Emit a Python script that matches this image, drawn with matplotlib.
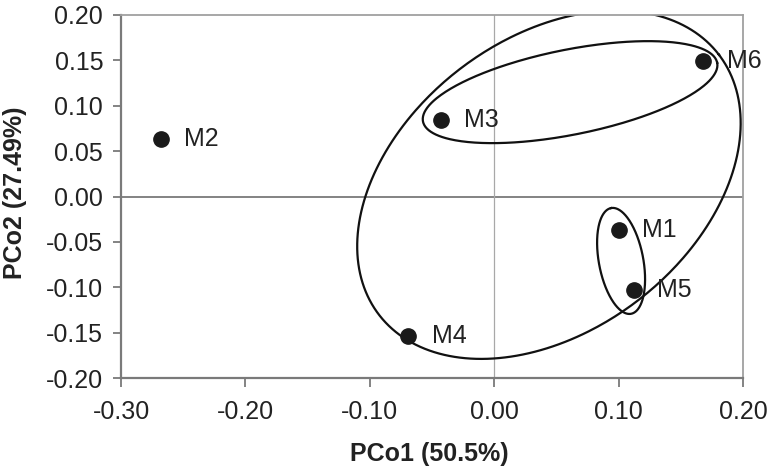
import numpy as np
import matplotlib
matplotlib.use("Agg")
import matplotlib.pyplot as plt

plt.rcParams['font.family'] = ['Liberation Sans', 'DejaVu Sans']

# Data
labels = ["M1", "M2", "M3", "M4", "M5", "M6"]
pco1 = [0.100, -0.268, -0.043, -0.069, 0.112, 0.168]
pco2 = [-0.037, 0.063, 0.084, -0.154, -0.103, 0.149]

xticks = [-0.30, -0.20, -0.10, 0.00, 0.10, 0.20]
yticks = [-0.20, -0.15, -0.10, -0.05, 0.00, 0.05, 0.10, 0.15, 0.20]

# Group ellipses: centre (data), semi-axes (pixels), angle (deg)
ell_centers = [(0.044, 0.013), (0.061, 0.115), (0.102, -0.071)]
ell_axes = [(214, 146), (150, 42.5), (53.8, 22.2)]
ell_angles = [37.4, 11.3, 100.7]

W, H = 772, 472
fig = plt.figure(figsize=(W / 100, H / 100), dpi=100)
l, r, b, t = 121 / W, 743 / W, (H - 378) / H, (H - 15) / H
ax = fig.add_axes([l, b, r - l, t - b])
xmin, xmax, ymin, ymax = -0.30, 0.20, -0.20, 0.20
ax.set_xlim(xmin, xmax)
ax.set_ylim(ymin, ymax)

# zero lines
ax.axhline(0, color='#7a7a7a', lw=1.3, zorder=1)
ax.axvline(0, color='#a8a8a8', lw=0.9, zorder=1)

# ellipses
sx = (r - l) * W / (xmax - xmin)
sy = (t - b) * H / (ymax - ymin)
tt = np.linspace(0, 2 * np.pi, 400)
for (cx, cy), (a, bb), ang in zip(ell_centers, ell_axes, ell_angles):
    th = np.deg2rad(ang)
    u = a * np.cos(tt) * np.cos(th) - bb * np.sin(tt) * np.sin(th)
    v = a * np.cos(tt) * np.sin(th) + bb * np.sin(tt) * np.cos(th)
    ax.plot(cx + u / sx, cy + v / sy, color='#111111', lw=1.6, zorder=2)

ax.plot(pco1, pco2, 'o', color='#1a1a1a', ms=11, zorder=3, linestyle='none')
for lab, x, y in zip(labels, pco1, pco2):
    ax.annotate(lab, (x, y), xytext=(17, 0), textcoords='offset points',
                ha='left', va='center', fontsize=18, color='#222222', zorder=4)

ax.set_xticks(xticks)
ax.set_xticklabels([f"{v:.2f}" for v in xticks])
ax.set_yticks(yticks)
ax.set_yticklabels([f"{v:.2f}" for v in yticks])
ax.tick_params(axis='both', direction='out', labelsize=18, colors='#7a7a7a',
               labelcolor='#222222', width=1.3)
ax.tick_params(axis='x', length=6.5, pad=9)
ax.tick_params(axis='y', length=5.8, pad=7)

for s in ['left', 'bottom']:
    ax.spines[s].set_color('#7a7a7a')
    ax.spines[s].set_linewidth(1.6)
for s in ['top', 'right']:
    ax.spines[s].set_color('#a0a0a0')
    ax.spines[s].set_linewidth(1.3)

ax.set_xlabel("PCo1 (50.5%)", fontsize=18, fontweight='bold', color='#222222')
ax.set_ylabel("PCo2 (27.49%)", fontsize=18, fontweight='bold', color='#222222')
ax.xaxis.label.set_va('center')
ax.yaxis.label.set_va('center')
ax.xaxis.set_label_coords((429.5 - 121) / 622, (378 - 454) / 363)
ax.yaxis.set_label_coords((15 - 121) / 622, (378 - 192.5) / 363)

fig.savefig("out.png", dpi=100)
